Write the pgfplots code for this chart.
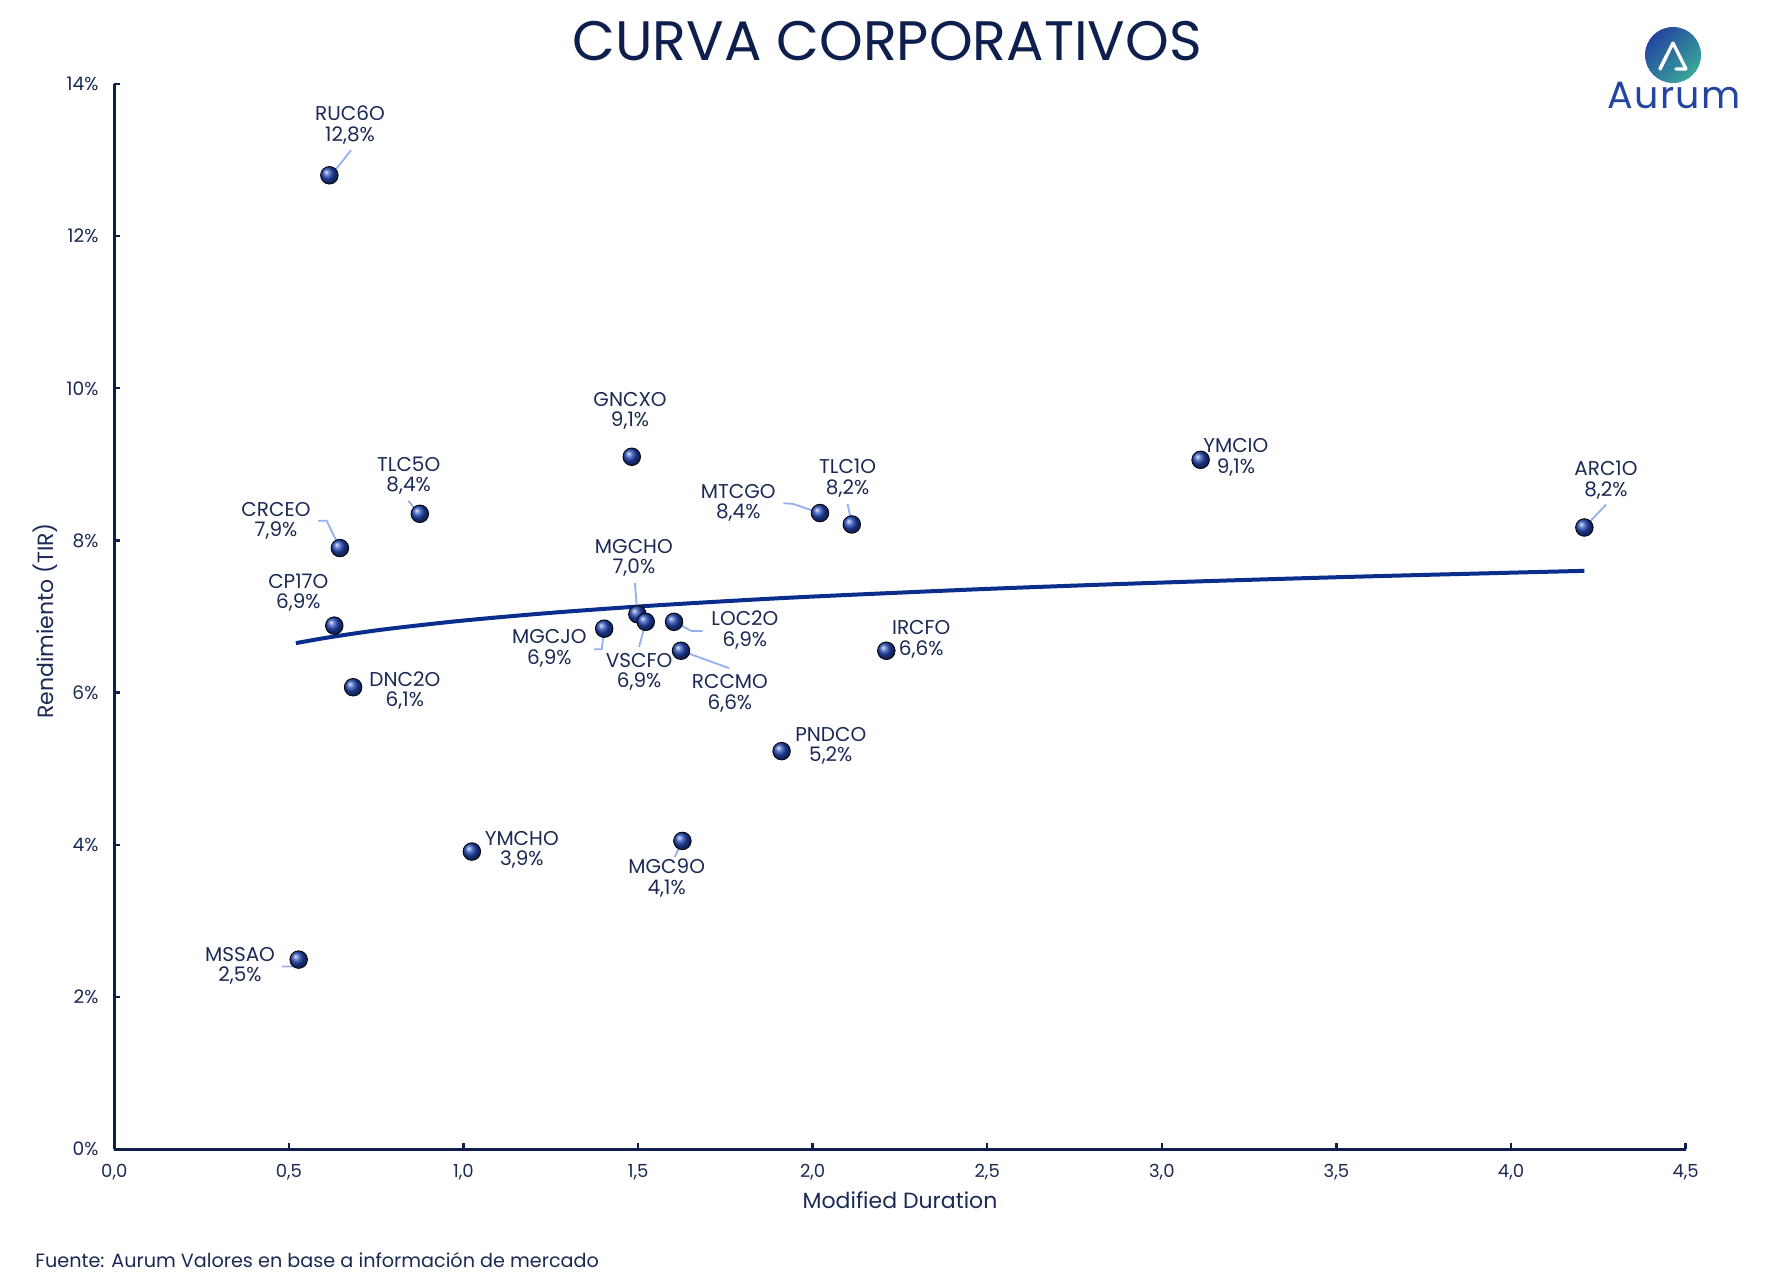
\documentclass[border=0pt]{standalone}
\usepackage{pgfplots}
\pgfplotsset{compat=1.18}
\usepackage{fontspec}
\setmainfont{Poppins}
\definecolor{navy}{HTML}{0E1F4D}
\definecolor{txt}{HTML}{1B2A55}
\definecolor{ptblue}{HTML}{2247B4}
\definecolor{trend}{HTML}{0B2E8C}
\definecolor{leader}{HTML}{94AEF0}
\definecolor{logoblue}{HTML}{2345A0}
\definecolor{logoteal}{HTML}{3AA79A}
\begin{document}
\begin{tikzpicture}[x=1pt,y=1pt]
\path[use as bounding box] (0,0) rectangle (887.5,643.5);
\begin{axis}[
  at={(57.15pt,69pt)}, anchor=south west,
  scale only axis, width=785.65pt, height=532.5pt,
  xmin=0, xmax=4.5, ymin=0, ymax=14,
  axis lines*=left,
  axis line style={navy, line width=1.5pt},
  clip=false,
  xtick={0,0.5,...,4.5}, ytick={0,2,...,14},
  tick align=inside, major tick length=3pt,
  tick style={navy, line width=1.2pt},
  /pgf/number format/assume math mode=true,
  xticklabel style={/pgf/number format/.cd, fixed, fixed zerofill, precision=1, use comma, /tikz/.cd, anchor=center, yshift=-11.5pt, font=\fontsize{9}{10}\selectfont, text=txt},
  yticklabel={\pgfmathprintnumber[fixed, precision=0]{\tick}\%},
  yticklabel style={anchor=east, inner sep=0pt, xshift=-7.75pt, font=\fontsize{9.3}{10}\selectfont, text=txt},
  label style={text=txt},
]
% trend line
\addplot[trend, line width=2pt, smooth] coordinates {
(0.52,6.65) (0.6,6.715) (0.7,6.785) (0.8,6.846) (1.0,6.947) (1.25,7.048) (1.5,7.131) (1.75,7.201) (2.0,7.262) (2.5,7.363) (3.0,7.446) (3.5,7.516) (4.0,7.576) (4.21,7.60)};
% leader lines
\begin{scope}[leader, line width=0.9pt]
\draw (axis cs:0.678,13.13) -- (axis cs:0.616,12.77);
\draw (axis cs:0.842,8.52) -- (axis cs:0.875,8.34);
\draw (axis cs:0.584,8.26) -- (axis cs:0.608,8.26) -- (axis cs:0.646,7.90);
\draw (axis cs:0.708,6.03) -- (axis cs:0.684,6.06);
\draw (axis cs:0.480,2.40) -- (axis cs:0.509,2.40) -- (axis cs:0.528,2.49);
\draw (axis cs:1.605,3.84) -- (axis cs:1.627,4.05);
\draw (axis cs:1.491,7.44) -- (axis cs:1.498,7.03);
\draw (axis cs:1.503,6.60) -- (axis cs:1.522,6.93);
\draw (axis cs:1.374,6.57) -- (axis cs:1.396,6.57) -- (axis cs:1.403,6.84);
\draw (axis cs:1.685,6.81) -- (axis cs:1.653,6.81) -- (axis cs:1.603,6.93);
\draw (axis cs:1.761,6.32) -- (axis cs:1.623,6.55);
\draw (axis cs:1.916,8.49) -- (axis cs:1.944,8.48) -- (axis cs:2.021,8.36);
\draw (axis cs:2.100,8.48) -- (axis cs:2.112,8.22);
\draw (axis cs:4.272,8.47) -- (axis cs:4.210,8.17);
\end{scope}
% bonds
\addplot[only marks, mark=ball, mark size=4.4pt, mark options={ball color=ptblue}] coordinates {
(0.616,12.8) (0.646,7.9) (0.875,8.35) (0.630,6.88) (0.684,6.07) (0.528,2.49)
(1.024,3.91) (1.482,9.10) (1.498,7.03) (1.522,6.93) (1.403,6.84) (1.603,6.93)
(1.623,6.55) (1.627,4.05) (1.911,5.23) (2.021,8.36) (2.112,8.21) (2.211,6.55)
(3.111,9.06) (4.210,8.17)};
% labels
\begin{scope}[every node/.style={align=center, text=txt, font=\fontsize{10}{10.2}\selectfont, inner sep=0pt}]
\node at (axis cs:0.675,13.46) {RUC6O\\12,8\%};
\node at (axis cs:1.477,9.70) {GNCXO\\9,1\%};
\node at (axis cs:0.843,8.85) {TLC5O\\8,4\%};
\node at (axis cs:0.463,8.26) {CRCEO\\7,9\%};
\node at (axis cs:0.527,7.31) {CP17O\\6,9\%};
\node at (axis cs:0.832,6.03) {DNC2O\\6,1\%};
\node at (axis cs:0.360,2.41) {MSSAO\\2,5\%};
\node at (axis cs:1.167,3.93) {YMCHO\\3,9\%};
\node at (axis cs:1.582,3.56) {MGC9O\\4,1\%};
\node at (axis cs:2.052,5.30) {PNDCO\\5,2\%};
\node at (axis cs:2.311,6.70) {IRCFO\\6,6\%};
\node at (axis cs:1.488,7.77) {MGCHO\\7,0\%};
\node at (axis cs:1.503,6.27) {VSCFO\\6,9\%};
\node at (axis cs:1.246,6.58) {MGCJO\\6,9\%};
\node at (axis cs:1.806,6.82) {LOC2O\\6,9\%};
\node at (axis cs:1.763,5.99) {RCCMO\\6,6\%};
\node at (axis cs:1.787,8.49) {MTCGO\\8,4\%};
\node at (axis cs:2.100,8.82) {TLC1O\\8,2\%};
\node at (axis cs:3.212,9.09) {YMCIO\\9,1\%};
\node at (axis cs:4.272,8.79) {ARC1O\\8,2\%};
\end{scope}
\end{axis}
% axis titles
\node[text=txt, font=\fontsize{11}{12}\selectfont] at (450,43.5) {Modified Duration};
\node[text=txt, rotate=90, font=\fontsize{11}{12}\selectfont] at (22.5,333) {Rendimiento (TIR)};
% title
\node[text=navy, font=\fontsize{27.8}{30}\selectfont] at (443.5,623) {CURVA CORPORATIVOS};
% footer
\node[anchor=west, text=txt, font=\fontsize{9.6}{11}\selectfont, inner sep=0pt] at (17.5,13.5) {Fuente: Aurum Valores en base a información de mercado};
% logo
\shade[left color=logoblue, right color=logoteal, shading angle=45] (836.5,616) circle (14);
\draw[white, line width=1.6pt, line cap=round, line join=round] (830,609) -- (836.5,622) -- (843,609) -- (838,609);
\draw[white, line width=1.6pt, line cap=round] (830,609) -- (833.5,616);
\node[anchor=base, text=logoblue, font=\fontsize{19}{20}\selectfont] at (837,589) {\addfontfeatures{LetterSpace=4}Aurum};
\end{tikzpicture}
\end{document}
